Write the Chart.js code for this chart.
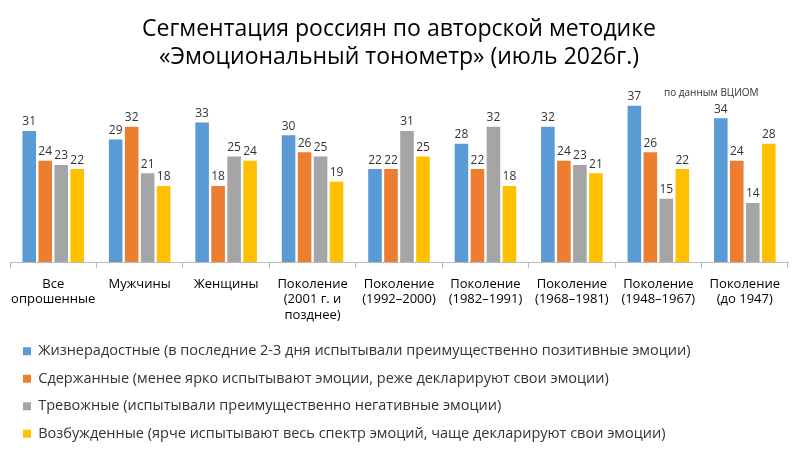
<!DOCTYPE html>
<html lang="ru">
<head>
<meta charset="UTF-8">
<title>Эмоциональный тонометр</title>
<script src="https://cdn.jsdelivr.net/npm/chart.js"></script>
<style>
  html, body { margin: 0; background: #fff; }
  #wrap { width: 800px; height: 465px; }
</style>
</head>
<body>
<div id="wrap"><canvas id="grafica"></canvas></div>
<script>
const categorias = [
  ["Все", "опрошенные"], "Мужчины", "Женщины",
  ["Поколение", "(2001 г. и", "позднее)"],
  ["Поколение", "(1992–2000)"], ["Поколение", "(1982–1991)"],
  ["Поколение", "(1968–1981)"], ["Поколение", "(1948–1967)"],
  ["Поколение", "(до 1947)"]
];
const jizneradostnye = [31, 29, 33, 30, 22, 28, 32, 37, 34];
const sderjannye     = [24, 32, 18, 26, 22, 22, 24, 26, 24];
const trevojnye      = [23, 21, 25, 25, 31, 32, 23, 15, 14];
const vozbujdennye   = [22, 18, 24, 19, 25, 18, 21, 22, 28];
const series = [
  "Жизнерадостные (в последние 2-3 дня испытывали преимущественно позитивные эмоции)",
  "Сдержанные (менее ярко испытывают эмоции, реже декларируют свои эмоции)",
  "Тревожные (испытывали преимущественно негативные эмоции)",
  "Возбужденные (ярче испытывают весь спектр эмоций, чаще декларируют свои эмоции)"
];
const colores = ["#5B9BD5", "#ED7D31", "#A5A5A5", "#FFC000"];
const valores = [jizneradostnye, sderjannye, trevojnye, vozbujdennye];

Chart.defaults.font.family = "'Open Sans', 'Liberation Sans', sans-serif";
Chart.defaults.color = "#000";

// подписи значений над столбцами + источник
const etiquetas = {
  id: "etiquetas",
  afterDatasetsDraw(chart) {
    const ctx = chart.ctx;
    ctx.save();
    ctx.font = "12px 'Open Sans', sans-serif";
    ctx.fillStyle = "#333";
    ctx.textAlign = "center";
    ctx.textBaseline = "bottom";
    chart.data.datasets.forEach((ds, i) => {
      chart.getDatasetMeta(i).data.forEach((bar, j) => {
        ctx.fillText(ds.data[j], bar.x, bar.y - 3);
      });
    });
    ctx.font = "10px 'Open Sans', sans-serif";
    ctx.textAlign = "left";
    ctx.fillText("по данным ВЦИОМ", 664, 98);
    ctx.restore();
  }
};

// сдвиг легенды вправо, как в оригинале
const legendaIzq = {
  id: "legendaIzq",
  afterLayout(chart) {
    const lg = chart.legend;
    if (!lg || !lg.legendHitBoxes) return;
    lg.legendHitBoxes.forEach(b => { b.left += 68; });
  }
};

new Chart(document.querySelector("#grafica"), {
  type: "bar",
  data: {
    labels: categorias,
    datasets: series.map((s, i) => ({
      label: s,
      data: valores[i],
      backgroundColor: colores[i],
      barPercentage: 0.85,
      categoryPercentage: 0.74
    }))
  },
  options: {
    responsive: true,
    maintainAspectRatio: false,
    animation: false,
    layout: { padding: { left: 10, right: 12, top: 0, bottom: 14 } },
    plugins: {
      title: {
        display: true,
        text: ["Сегментация россиян по авторской методике", "«Эмоциональный тонометр» (июль 2026г.)"],
        font: { size: 23, weight: "normal" },
        padding: { top: 16, bottom: 26 },
        lineHeight: 1.3
      },
      legend: {
        position: "bottom",
        align: "start",
        labels: { boxWidth: 8, boxHeight: 8, font: { size: 14.5 }, padding: 13, color: "#333" }
      },
      tooltip: { enabled: false }
    },
    scales: {
      x: {
        grid: { drawOnChartArea: false, tickLength: 6, color: "#bbb", offset: true },
        border: { color: "#bbb" },
        ticks: { font: { size: 13 }, padding: 8, maxRotation: 0, autoSkip: false, color: "#000" }
      },
      y: {
        display: false,
        min: 0,
        max: 39
      }
    }
  },
  plugins: [legendaIzq, etiquetas]
});
</script>
</body>
</html>
